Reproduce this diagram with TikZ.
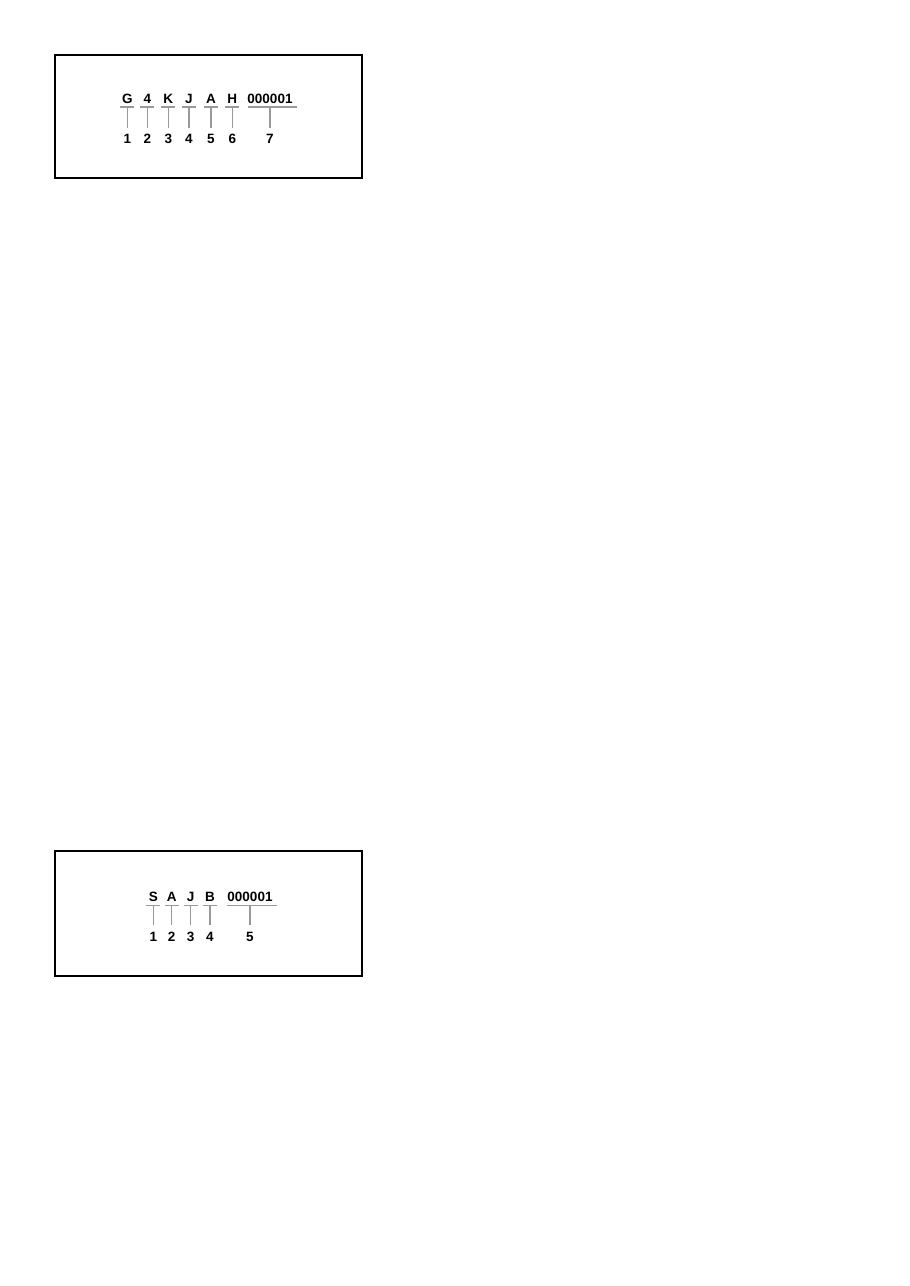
\documentclass[tikz,border=0pt]{standalone}
\usepackage{fontspec}
\setmainfont{Liberation Sans}
\begin{document}
\begin{tikzpicture}[x=1pt,y=-1pt,
  frame/.style={draw=black,line width=1.3pt},
  let/.style={font=\bfseries\fontsize{13.5}{14}\selectfont,inner sep=0pt,anchor=center},
  num/.style={font=\bfseries\fontsize{13.5}{14}\selectfont,inner sep=0pt,anchor=center},
  ln/.style={draw=black!40,line width=1.2pt}]
\useasboundingbox[fill=white] (0,0) rectangle (910,1286);
% ---------- box 1 ----------
\draw[frame] (55,55) rectangle (362,178);
\foreach \x/\t/\n/\i in {127.3/G/1/a,147.3/4/2/b,168.3/K/3/c,189/J/4/d,211/A/5/e,232.3/H/6/f}{
  \node[let] (t\i) at (\x,98.5) {\t};
  \node[num] (n\i) at (\x,139) {\n};
  \coordinate (u\i) at (\x,107);
  \draw[ln] ([xshift=-7pt]u\i) -- ([xshift=7pt]u\i);
  \draw[ln] (u\i) -- ([yshift=6pt]n\i.north);
}
\node[let] (tg) at (270,98.5) {000001};
\node[num] (ng) at (270,139) {7};
\coordinate (ug) at (270,107);
\draw[ln] ([xshift=-22pt]ug) -- ([xshift=27pt]ug);
\draw[ln] (ug) -- ([yshift=6pt]ng.north);
% ---------- box 2 ----------
\draw[frame] (55,851) rectangle (362,976);
\foreach \x/\t/\n/\i in {153.3/S/1/a,171.7/A/2/b,190.7/J/3/c,210/B/4/d}{
  \node[let] (s\i) at (\x,897) {\t};
  \node[num] (m\i) at (\x,937) {\n};
  \coordinate (v\i) at (\x,905.3);
  \draw[ln] ([xshift=-7pt]v\i) -- ([xshift=7pt]v\i);
  \draw[ln] (v\i) -- ([yshift=7pt]m\i.north);
}
\node[let] (se) at (250,897) {000001};
\node[num] (me) at (250,937) {5};
\coordinate (ve) at (250,905.3);
\draw[ln] ([xshift=-23pt]ve) -- ([xshift=27pt]ve);
\draw[ln] (ve) -- ([yshift=7pt]me.north);
\end{tikzpicture}
\end{document}
